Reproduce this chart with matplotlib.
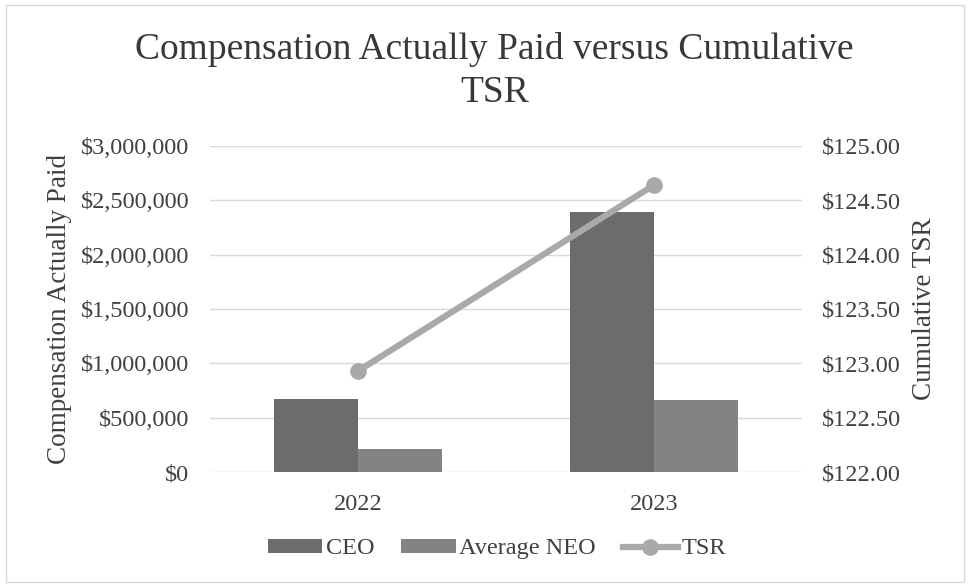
import matplotlib.pyplot as plt
import matplotlib.ticker as mticker
from matplotlib.patches import Rectangle
import numpy as np

plt.rcParams['font.family'] = ['Liberation Serif', 'DejaVu Serif']

# data
years = ['2022', '2023']
ceo_cap = [672000, 2390000]
neo_cap = [212000, 662000]
tsr = [122.93, 124.64]

ceo_color = '#6c6c6c'
neo_color = '#838383'
tsr_color = '#a9a9a9'
grid_color = '#d9d9d9'
text_color = '#404040'

fig = plt.figure(figsize=(9.7, 5.87), dpi=100)
# chart area border
fig.patches.append(Rectangle((0.006, 0.008), 0.988, 0.984, transform=fig.transFigure,
                             fill=False, edgecolor='#d9d9d9', linewidth=1.0))

ax = fig.add_axes([0.2165, 0.1959, 0.6103, 0.5554])
x = np.arange(len(years))
w = 0.284
ax.bar(x - w / 2, ceo_cap, width=w, color=ceo_color, label='CEO', zorder=2)
ax.bar(x + w / 2, neo_cap, width=w, color=neo_color, label='Average NEO', zorder=2)

ax.set_xlim(-0.5, 1.5)
ax.set_ylim(0, 3000000)
ax.set_yticks(np.arange(0, 3000001, 500000))
ax.yaxis.set_major_formatter(mticker.FuncFormatter(lambda v, p: f'${v:,.0f}'))
ax.set_xticks(x)
ax.set_xticklabels(years)
ax.grid(axis='y', color=grid_color, linewidth=1.0, zorder=0)
ax.set_axisbelow(True)
for s in ax.spines.values():
    s.set_visible(False)
ax.tick_params(axis='both', length=0, labelsize=17.5, colors=text_color)
ax.tick_params(axis='y', pad=15)
ax.tick_params(axis='x', pad=16)
ax.set_ylabel('Compensation Actually Paid', fontsize=19.5, color=text_color, labelpad=6)

ax2 = ax.twinx()
ax2.plot(x, tsr, color=tsr_color, linewidth=4.5, marker='o', markersize=11,
         label='TSR', zorder=3)
ax2.set_ylim(122, 125)
ax2.set_yticks(np.arange(122, 125.01, 0.5))
ax2.yaxis.set_major_formatter(mticker.FuncFormatter(lambda v, p: f'${v:.2f}'))
for s in ax2.spines.values():
    s.set_visible(False)
ax2.tick_params(axis='y', length=0, labelsize=17.5, colors=text_color, pad=14)
ax2.set_ylabel('Cumulative TSR', fontsize=19.5, color=text_color, labelpad=8)

fig.suptitle('Compensation Actually Paid versus Cumulative\nTSR', fontsize=27,
             color='#383838', x=0.51, y=0.945, linespacing=1.3)

h1, l1 = ax.get_legend_handles_labels()
h2, l2 = ax2.get_legend_handles_labels()
fig.legend(h1 + h2, l1 + l2, loc='center', bbox_to_anchor=(0.512, 0.065), ncol=3,
           frameon=False, fontsize=17.5, handlelength=2.25, handleheight=0.5,
           handletextpad=0.15, columnspacing=1.1, labelcolor=text_color)

fig.savefig('out.png', dpi=100)
